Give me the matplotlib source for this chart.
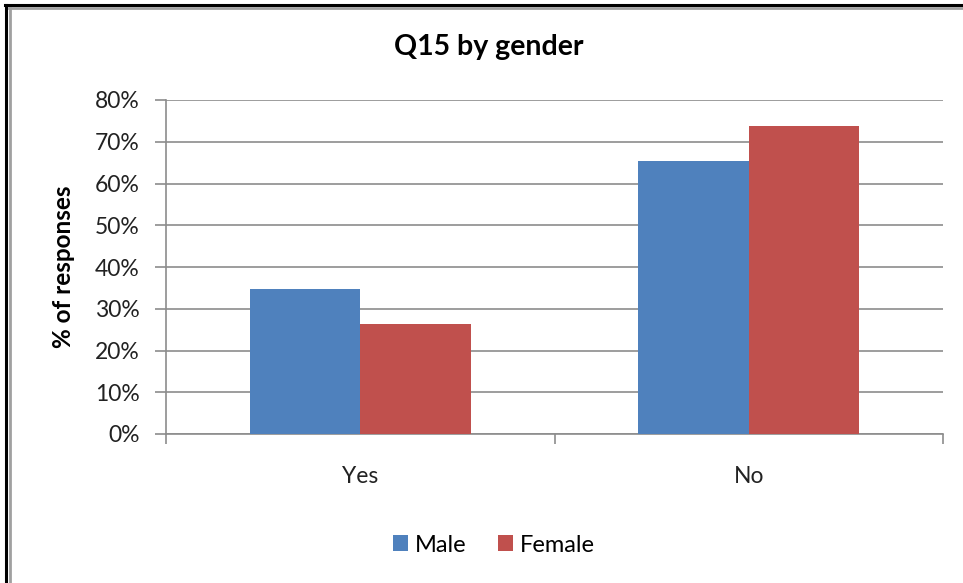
import matplotlib.pyplot as plt
import numpy as np
from matplotlib.lines import Line2D
from matplotlib.ticker import PercentFormatter

categories = ['Yes', 'No']
male = [34.7, 65.3]
female = [26.3, 73.7]
ticks = [0, 10, 20, 30, 40, 50, 60, 70, 80]

blue = '#4f81bd'
red = '#c0504d'
plt.rcParams['font.family'] = ['Lato', 'DejaVu Sans']

W, H = 963, 583
fig = plt.figure(figsize=(W / 100, H / 100), dpi=100)
ax = fig.add_axes([166 / W, 1 - 434 / H, (943 - 166) / W, (434 - 100) / H])

x = np.arange(len(categories))
w = 0.285
ax.bar(x - w / 2, male, w, color=blue, label='Male', zorder=3)
ax.bar(x + w / 2, female, w, color=red, label='Female', zorder=3)

ax.set_xlim(-0.5, 1.5)
ax.set_ylim(0, 80)
ax.set_yticks(ticks)
ax.yaxis.set_major_formatter(PercentFormatter(decimals=0))
ax.yaxis.grid(True, color='#8c8c8c', linewidth=1.2, zorder=0)
ax.tick_params(axis='y', labelsize=16.5, colors='#8c8c8c', labelcolor='#222222',
               length=8, width=1.2, pad=11)

ax.set_xticks(x)
ax.set_xticklabels(categories)
ax.set_xticks([-0.5, 0.5, 1.5], minor=True)
ax.tick_params(axis='x', which='major', length=0, labelsize=16.5, labelcolor='#222222', pad=23)
ax.tick_params(axis='x', which='minor', length=7, width=1.2, colors='#8c8c8c')

for s in ['top', 'right']:
    ax.spines[s].set_visible(False)
for s in ['left', 'bottom']:
    ax.spines[s].set_color('#8c8c8c')
    ax.spines[s].set_linewidth(1.2)

ax.set_ylabel('% of responses', fontsize=17.5, fontweight='bold', labelpad=14)
fig.text(489 / W, 1 - 47 / H, 'Q15 by gender', fontsize=20.5, fontweight='bold',
         ha='center', va='center')

fig.legend(loc='center', bbox_to_anchor=(494 / W, 1 - 545 / H), ncol=2, frameon=False,
           fontsize=17, handlelength=0.65, handleheight=0.65, handletextpad=0.3,
           columnspacing=1.3)

# outer frame (black) and inner frame (gray), top and left only
fig.add_artist(Line2D([5 / W, 1], [1 - 5 / H, 1 - 5 / H], color='black', linewidth=2.2,
                      transform=fig.transFigure))
fig.add_artist(Line2D([6 / W, 6 / W], [0, 1 - 5 / H], color='black', linewidth=2.2,
                      transform=fig.transFigure))
fig.add_artist(Line2D([9 / W, 1], [1 - 8 / H, 1 - 8 / H], color='#a0a0a0', linewidth=2,
                      transform=fig.transFigure))
fig.add_artist(Line2D([9.5 / W, 9.5 / W], [0, 1 - 8 / H], color='#a0a0a0', linewidth=2,
                      transform=fig.transFigure))

fig.savefig('out.png', dpi=100)
